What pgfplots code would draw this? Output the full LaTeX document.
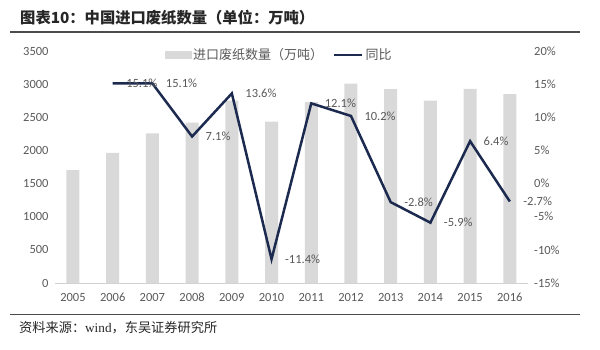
\documentclass[border=0pt]{standalone}
\usepackage{fontspec}
\usepackage{pgfplots}
\usepackage{pgfplotstable}
\pgfplotsset{compat=1.18}
\setmainfont{Carlito}
\newfontfamily\cjk{Noto Sans CJK SC}
\newfontfamily\serif{Liberation Serif}
\definecolor{barcol}{HTML}{D9D9D9}
\definecolor{linecol}{HTML}{1B2A4E}
\definecolor{txt}{HTML}{595959}

\pgfplotstableread{
x  v
0  1703
1  1962
2  2256
3  2421
4  2750
5  2435
6  2728
7  3007
8  2924
9  2752
10 2928
11 2850
}\bars

\pgfplotstableread{
x  y
1  15.1
2  15.1
3  7.1
4  13.6
5  -11.4
6  12.1
7  10.2
8  -2.8
9  -5.9
10 6.4
11 -2.7
}\yoy

\begin{document}
\begin{tikzpicture}[x=1pt,y=1pt]
\path[use as bounding box] (0,0) rectangle (600,349);
\node[anchor=west, font=\cjk\bfseries\fontsize{15.3}{17}\selectfont, text=black!85, inner sep=0pt] at (20,331) {图表10：中国进口废纸数量（单位：万吨）};
\draw[black!70, line width=1.2pt] (10,317) -- (580,317);
\draw[black!70, line width=1pt] (10,35) -- (580,35);
\node[anchor=west, font=\fontsize{13.2}{15}\selectfont, text=black!85, inner sep=0pt] at (19,21) {{\cjk 资料来源：}{\serif wind}{\cjk ，东吴证券研究所}};

\begin{axis}[
  at={(55.1pt,66pt)}, anchor=south west, scale only axis,
  width=472.6pt, height=232pt,
  xmin=-0.45, xmax=11.45, ymin=0, ymax=3500,
  ytick={0,500,...,3500},
  xtick={0,...,11}, xticklabels={2005,2006,2007,2008,2009,2010,2011,2012,2013,2014,2015,2016},
  axis x line*=bottom, axis y line*=left,
  x axis line style={gray!35, line width=0.8pt, -},
  y axis line style={draw=none},
  major tick length=0pt,
  tick label style={font=\fontsize{12.5}{14}\selectfont, text=txt},
  /pgf/number format/assume math mode=true,
  /pgf/number format/1000 sep={},
  yticklabel style={xshift=-3pt},
  xticklabel style={anchor=north, yshift=-9pt, text height=8pt, text depth=1pt, inner sep=1pt},
]
\addplot[ybar, bar width=13pt, fill=barcol, draw=none] table[x=x, y=v] {\bars};
\end{axis}

\begin{axis}[
  at={(55.1pt,66pt)}, anchor=south west, scale only axis,
  width=472.6pt, height=232pt,
  xmin=-0.45, xmax=11.45, ymin=-15, ymax=20,
  ytick={-15,-10,...,20},
  yticklabel={\pgfmathprintnumber{\tick}\%},
  axis x line=none, axis y line*=right,
  y axis line style={draw=none},
  major tick length=0pt,
  tick label style={font=\fontsize{12.5}{14}\selectfont, text=txt},
  /pgf/number format/assume math mode=true,
  yticklabel style={xshift=3pt},
  legend style={at={(0.474,0.983)}, anchor=center, draw=none, fill=none,
    font=\cjk\fontsize{13}{14}\selectfont, text=txt, legend columns=2,
    /tikz/every even column/.append style={column sep=8pt}},
]
\addlegendimage{legend image code/.code={\fill[barcol] (0pt,-3.5pt) rectangle (26pt,3.5pt);}}
\addlegendentry{进口废纸数量（万吨）}
\addplot[linecol, line width=2.5pt, no marks,
  legend image code/.code={\draw[linecol, line width=2.5pt] (0pt,0pt) -- (28pt,0pt);},
  point meta=\thisrow{y},
  nodes near coords={\pgfmathprintnumber[fixed,precision=1,fixed zerofill]{\pgfplotspointmeta}\%},
  nodes near coords style={anchor=west, xshift=9pt, yshift=0pt, font=\fontsize{12.5}{14}\selectfont, text=txt, /pgf/number format/assume math mode=true},
] table[x=x, y=y] {\yoy};
\addlegendentry{同比}
\end{axis}
\end{tikzpicture}
\end{document}
